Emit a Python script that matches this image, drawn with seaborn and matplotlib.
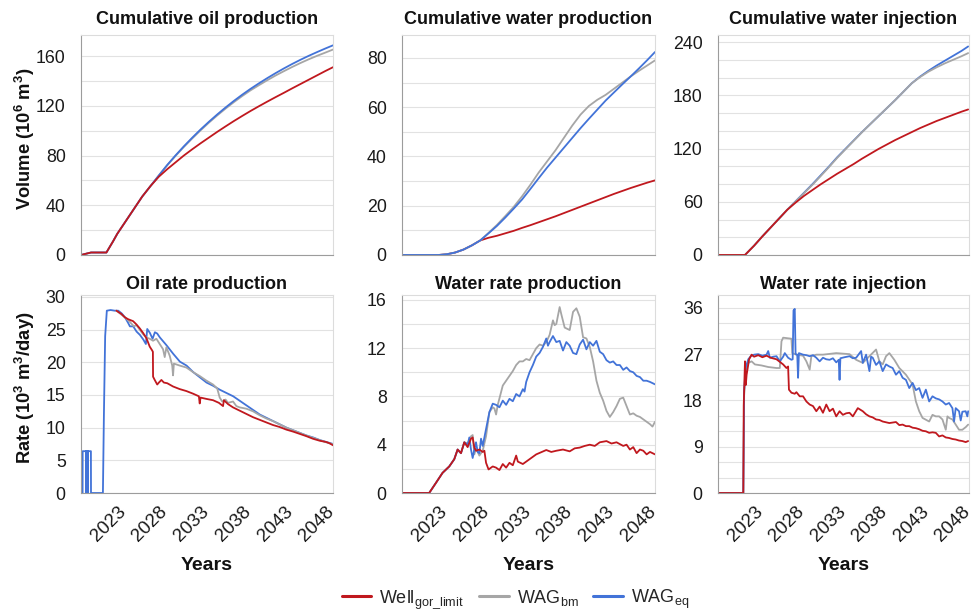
import matplotlib
matplotlib.use("Agg")
import matplotlib.pyplot as plt
from matplotlib.lines import Line2D
from matplotlib.ticker import MultipleLocator
import pandas as pd
import seaborn as sns

# ---------------------------------------------------------------- data
cases = ["Well", "WAG_bm", "WAG_eq"]
case_labels = [r"Well$_{gor\_limit}$", r"WAG$_{bm}$", r"WAG$_{eq}$"]
case_colors = {"Well": "#C0181E", "WAG_bm": "#A6A6A6", "WAG_eq": "#4273D8"}
year_ticks = [2023, 2028, 2033, 2038, 2043, 2048]

# Cumulative oil production (10^6 m3)
cum_oil_years = [2018.68, 2019.0, 2019.85, 2021.7, 2022.5,
                 2023, 2024, 2025, 2026, 2027, 2028, 2029, 2030, 2031, 2032,
                 2033, 2034, 2035, 2036, 2037, 2038, 2039, 2040, 2041, 2042,
                 2043, 2044, 2045, 2046, 2047, 2048, 2048.9]
cum_oil_well = [0, 0.6, 2, 2, 11,
                17, 27, 37, 47, 55.5, 63, 69, 74.5, 80, 85,
                89.8, 94.4, 99, 103.4, 107.7, 111.8, 115.8, 119.6, 123.3, 126.9,
                130.4, 134, 137.5, 141, 144.5, 148, 151]
cum_oil_bm = [0, 0.6, 2, 2, 11,
              17, 27, 37, 47, 55.5, 64, 72.1, 79.7, 86.9, 93.7,
              100.2, 106.4, 112.2, 117.7, 122.9, 127.8, 132.4, 136.5, 140.5, 144.3,
              147.8, 151.2, 154.4, 157.4, 160.2, 162.8, 165.2]
cum_oil_eq = [0, 0.6, 2, 2, 11,
              17, 27, 37, 47, 55.5, 64, 72.4, 80.1, 87.4, 94.3,
              100.9, 107.1, 113, 118.6, 123.9, 128.9, 133.6, 138, 142.2, 146.2,
              150, 153.6, 157, 160.2, 163.2, 166.1, 168.6]

# Cumulative water production (10^6 m3)
cum_wprod_years = [2018.6, 2023, 2024, 2025, 2026, 2027, 2028, 2029, 2030, 2031,
                   2032, 2033, 2034, 2035, 2036, 2037, 2038, 2039, 2040, 2041,
                   2042, 2043, 2044, 2045, 2046, 2047, 2048, 2048.9]
cum_wprod_well = [0, 0, 0.3, 1.0, 2.2, 3.9, 5.9, 7.0, 7.8, 8.8,
                  9.8, 11.0, 12.1, 13.3, 14.5, 15.7, 17.0, 18.3, 19.6, 20.9,
                  22.2, 23.5, 24.8, 26.0, 27.2, 28.3, 29.4, 30.3]
cum_wprod_bm = [0, 0, 0.3, 1.0, 2.2, 3.9, 5.9, 9.0, 12.2, 15.8,
                19.5, 23.8, 28.5, 33.5, 38, 42.5, 47.5, 52.5, 57, 60.5,
                63, 65, 67.5, 70, 72.5, 74.8, 77, 79]
cum_wprod_eq = [0, 0, 0.3, 1.0, 2.2, 3.9, 5.9, 8.8, 11.8, 15.2,
                18.8, 22.5, 26.8, 31.2, 35.5, 39.5, 43.5, 47.5, 51.5, 55.3,
                59, 62.7, 66, 69.3, 72.5, 75.8, 79.2, 82.4]

# Cumulative water injection (10^6 m3)
cum_winj_years = [2018.6, 2021.9, 2023, 2024, 2025, 2026, 2027, 2028, 2029, 2030,
                  2031, 2032, 2033, 2034, 2035, 2036, 2037, 2038, 2039, 2040,
                  2041, 2042, 2043, 2044, 2045, 2046, 2047, 2048, 2048.8]
cum_winj_well = [0, 0, 10.5, 21, 31, 41, 51, 59, 66.5, 73,
                 79.5, 85.5, 91.5, 97, 102.5, 108.5, 114, 119.5, 124.5, 129.5,
                 134, 138.5, 143, 147, 151, 154.5, 158, 161.5, 164]
cum_winj_bm = [0, 0, 10.5, 21, 31, 41, 51, 60.3, 69.5, 78.8,
               88.7, 98.8, 109.3, 119.0, 128.7, 138.3, 147.5, 156.5, 165.5, 174.5,
               184, 193.5, 200.5, 206.5, 211.5, 216, 220, 224, 227.5]
cum_winj_eq = [0, 0, 10.5, 21, 31, 41, 51, 60.5, 70, 79.5,
               89.5, 99.5, 110, 119.5, 129, 138.5, 147.5, 156.5, 165.5, 174.5,
               184, 193.5, 201, 207.5, 213.5, 219, 224.5, 230, 235]

# Oil rate production (10^3 m3/day)
oil_rate_eq_years = [2018.70, 2018.84, 2018.85, 2019.24, 2019.25, 2019.26, 2019.48,
                     2019.49, 2019.50, 2019.84, 2019.85, 2021.28, 2021.40, 2021.55,
                     2021.75, 2022.2, 2022.7, 2023.12, 2023.52, 2023.92, 2024.32,
                     2024.52, 2024.92, 2025.32, 2025.72, 2026.12, 2026.44, 2026.6,
                     2026.92, 2027.24, 2027.52, 2027.8, 2028.12, 2028.92, 2029.72,
                     2030.52, 2031.32, 2032.12, 2032.92, 2033.72, 2034.52, 2035.32,
                     2036.12, 2036.92, 2037.72, 2038.52, 2039.32, 2040.12, 2040.92,
                     2041.72, 2042.52, 2043.32, 2044.12, 2044.92, 2045.72, 2046.52,
                     2047.32, 2048.12, 2048.92]
oil_rate_eq = [0, 0, 6.4, 6.4, 0, 6.4, 6.4,
               0, 6.4, 6.4, 0, 0, 12, 24,
               27.9, 28.0, 27.9, 27.9, 27.5, 26.9, 26.0,
               25.5, 25.5, 24.7, 24.2, 23.5, 22.8, 25.1,
               24.5, 23.6, 24.6, 24.4, 23.8, 22.6, 21.3,
               20.1, 19.5, 18.5, 17.7, 16.9, 16.4, 15.8,
               15.3, 14.8, 14.1, 13.4, 12.7, 12.0, 11.5,
               11.0, 10.5, 10.0, 9.6, 9.2, 8.8, 8.5,
               8.1, 7.8, 7.5]
oil_rate_well_years = [2022.9, 2023.5, 2023.9, 2024.3, 2024.9, 2025.3, 2025.7, 2026.1,
                       2026.5, 2026.9, 2027.2, 2027.28, 2027.3, 2027.5, 2027.8, 2028.0,
                       2028.3, 2028.6, 2029.0, 2029.7, 2030.5, 2031.3, 2032.1, 2032.8,
                       2032.9, 2033.0, 2033.7, 2034.5, 2035.2, 2035.7, 2035.8, 2036.3,
                       2036.9, 2037.7, 2038.5, 2039.3, 2040.1, 2040.9, 2041.7, 2042.5,
                       2043.3, 2044.1, 2044.9, 2045.7, 2046.5, 2047.3, 2048.1, 2048.5,
                       2048.9]
oil_rate_well = [27.9, 27.4, 26.9, 26.6, 26.3, 25.8, 25.2, 24.5,
                 23.7, 22.4, 21.8, 21.6, 17.8, 17.3, 16.6, 16.9,
                 17.3, 16.9, 16.8, 16.3, 15.9, 15.6, 15.2, 14.8,
                 13.7, 14.6, 14.4, 14.2, 13.8, 13.3, 14.2, 13.6,
                 13.1, 12.6, 12.1, 11.6, 11.2, 10.8, 10.4, 10.1,
                 9.7, 9.4, 9.05, 8.7, 8.3, 8.0, 7.8, 7.6,
                 7.3]
oil_rate_bm_years = [2022.9, 2023.9, 2024.5, 2025.0, 2025.3, 2025.7, 2026.1, 2026.5,
                     2026.9, 2027.3, 2027.7, 2028.1, 2028.5, 2028.7, 2028.9, 2029.3,
                     2029.6, 2029.7, 2029.8, 2030.5, 2031.3, 2032.1, 2032.9, 2033.7,
                     2034.5, 2035.0, 2035.3, 2035.6, 2036.0, 2036.3, 2036.9, 2037.3,
                     2037.7, 2038.5, 2039.3, 2040.1, 2040.9, 2041.7, 2042.5, 2043.3,
                     2044.1, 2044.9, 2045.7, 2046.5, 2047.3, 2048.1, 2048.9]
oil_rate_bm = [27.9, 26.9, 26.2, 25.5, 25.7, 25.0, 24.3, 23.8,
               23.6, 23.3, 23.6, 22.8, 22.0, 20.8, 22.3, 21.0,
               19.5, 18.0, 19.8, 19.5, 19.2, 18.5, 17.9, 17.2,
               16.6, 16.0, 14.6, 14.0, 14.3, 13.8, 14.0, 13.3,
               13.1, 12.9, 12.5, 11.9, 11.4, 11.0, 10.5, 10.0,
               9.6, 9.2, 8.8, 8.45, 8.1, 7.75, 7.45]

# Water rate production (10^3 m3/day)
wprod_rate_well_years = [2018.6, 2021.9, 2022.7, 2023.5, 2024.3, 2024.9, 2025.3, 2025.7,
                         2026.1, 2026.5, 2026.9, 2027.1, 2027.3, 2027.5, 2027.9, 2028.3,
                         2028.5, 2028.7, 2029.0, 2029.5, 2029.9, 2030.3, 2030.7, 2031.1,
                         2031.5, 2031.9, 2032.3, 2032.5, 2033.1, 2033.5, 2033.9, 2034.7,
                         2035.9, 2036.5, 2037.1, 2037.9, 2038.7, 2039.3, 2039.9, 2040.5,
                         2041.1, 2041.7, 2042.3, 2043.1, 2043.7, 2044.3, 2045.1, 2045.5,
                         2045.9, 2046.3, 2046.7, 2047.1, 2047.5, 2047.9, 2048.3, 2048.9]
wprod_rate_well = [0, 0, 0.83, 1.67, 2.2, 2.8, 3.6, 3.3,
                   4.2, 3.8, 4.5, 4.6, 3.75, 3.5, 3.6, 3.4,
                   3.5, 2.5, 1.95, 2.2, 2.1, 1.9, 2.4, 2.1,
                   2.5, 2.3, 3.1, 2.6, 2.4, 2.6, 2.8, 3.2,
                   3.56, 3.4, 3.5, 3.6, 3.45, 3.7, 3.76, 3.9,
                   4.0, 3.9, 4.2, 4.3, 4.1, 4.2, 3.9, 4.0,
                   3.6, 3.8, 3.3, 3.6, 3.5, 3.2, 3.4, 3.2]
wprod_rate_eq_years = [2018.6, 2021.9, 2022.7, 2023.5, 2024.3, 2024.9, 2025.3, 2025.7,
                       2026.1, 2026.5, 2026.7, 2026.9, 2027.1, 2027.3, 2027.5, 2027.7,
                       2027.9, 2028.1, 2028.3, 2028.5, 2028.7, 2029.1, 2029.5, 2029.9,
                       2030.3, 2030.7, 2031.1, 2031.5, 2031.9, 2032.3, 2032.7, 2033.1,
                       2033.3, 2033.5, 2033.9, 2034.3, 2034.7, 2035.1, 2035.5, 2035.9,
                       2036.1, 2036.3, 2036.7, 2037.1, 2037.5, 2037.9, 2038.3, 2038.7,
                       2039.1, 2039.5, 2039.9, 2040.3, 2040.7, 2041.1, 2041.5, 2041.9,
                       2042.3, 2042.7, 2043.1, 2043.5, 2043.9, 2044.3, 2044.7, 2045.1,
                       2045.5, 2045.9, 2046.3, 2046.7, 2047.1, 2047.5, 2047.9, 2048.3,
                       2048.9]
wprod_rate_eq = [0, 0, 0.83, 1.67, 2.2, 2.8, 3.6, 3.3,
                 4.2, 4.0, 4.6, 3.6, 2.9, 3.6, 4.2, 3.4,
                 3.3, 4.5, 3.9, 4.6, 5.3, 6.7, 7.4, 7.3,
                 7.1, 7.65, 7.3, 7.8, 7.6, 8.2, 8.0, 8.6,
                 8.4, 9.2, 10.0, 10.6, 11.3, 11.6, 12.1, 12.8,
                 12.2, 12.5, 13.0, 12.5, 12.6, 11.8, 12.5, 12.2,
                 11.6, 11.5, 12.3, 12.7, 11.9, 12.5, 12.2, 12.6,
                 11.7, 11.5, 11.0, 10.8, 10.9, 10.6, 10.6, 10.2,
                 10.4, 10.1, 10.0, 9.7, 9.6, 9.3, 9.3, 9.2,
                 9.0]
wprod_rate_bm_years = [2018.6, 2021.9, 2022.7, 2023.5, 2024.3, 2024.9, 2025.3, 2025.7,
                       2026.1, 2026.5, 2026.9, 2027.1, 2027.3, 2027.5, 2027.9, 2028.3,
                       2028.7, 2029.1, 2029.5, 2029.7, 2029.9, 2030.1, 2030.7, 2031.1,
                       2031.5, 2031.9, 2032.3, 2032.7, 2033.1, 2033.5, 2033.9, 2034.3,
                       2034.7, 2035.1, 2035.5, 2035.9, 2036.3, 2036.7, 2036.9, 2037.1,
                       2037.5, 2037.7, 2038.1, 2038.4, 2038.7, 2039.1, 2039.5, 2039.9,
                       2040.3, 2040.7, 2041.1, 2041.5, 2041.9, 2042.3, 2042.7, 2043.1,
                       2043.5, 2043.9, 2044.3, 2044.7, 2045.1, 2045.5, 2045.9, 2046.3,
                       2046.7, 2047.1, 2047.5, 2047.9, 2048.3, 2048.6, 2048.9]
wprod_rate_bm = [0, 0, 0.83, 1.67, 2.2, 2.8, 3.6, 3.3,
                 4.2, 4.1, 4.7, 4.8, 3.2, 3.7, 3.1, 3.5,
                 4.7, 6.7, 7.1, 7.0, 6.5, 7.3, 8.9, 9.3,
                 9.7, 10.1, 10.6, 10.9, 10.9, 11.1, 11.0, 11.5,
                 12.0, 12.3, 12.2, 12.5, 13.1, 14.3, 13.9, 14.0,
                 15.4, 14.8, 13.7, 13.6, 13.5, 15.0, 15.3, 14.6,
                 12.9, 12.8, 12.1, 10.9, 9.3, 8.3, 7.65, 6.8,
                 6.3, 6.7, 7.2, 7.8, 7.9, 7.2, 6.5, 6.6,
                 6.4, 6.3, 6.1, 5.9, 5.7, 5.5, 5.9]

# Water rate injection (10^3 m3/day)
winj_rate_well_years = [2018.5, 2021.7, 2021.75, 2021.9, 2022.0, 2022.1, 2022.4, 2022.7,
                        2023.0, 2023.5, 2024.0, 2024.5, 2025.0, 2025.7, 2026.5, 2026.9,
                        2027.1, 2027.2, 2027.5, 2027.9, 2028.1, 2028.5, 2028.9, 2029.3,
                        2029.7, 2030.1, 2030.5, 2030.9, 2031.3, 2031.7, 2032.1, 2032.5,
                        2032.9, 2033.3, 2033.7, 2034.1, 2034.5, 2034.9, 2035.5, 2036.1,
                        2036.5, 2036.9, 2037.3, 2037.7, 2038.1, 2038.5, 2039.3, 2040.1,
                        2040.5, 2040.9, 2041.3, 2041.7, 2042.1, 2042.5, 2042.9, 2043.3,
                        2043.7, 2044.1, 2044.5, 2044.9, 2045.3, 2045.7, 2046.1, 2046.5,
                        2046.9, 2047.3, 2047.7, 2048.1, 2048.5, 2048.8]
winj_rate_well = [0, 0, 17, 25.6, 21.0, 23.0, 26.0, 26.9,
                  26.5, 26.8, 26.4, 26.7, 26.3, 26.0, 25.0, 24.3,
                  24.6, 20.1, 19.5, 19.3, 19.6, 18.8, 18.8, 17.8,
                  17.2, 16.9, 15.9, 16.8, 15.6, 17.2, 15.9, 16.4,
                  14.9, 15.9, 15.2, 15.5, 15.6, 14.9, 16.5, 15.9,
                  15.3, 14.9, 14.7, 14.3, 14.2, 13.9, 13.6, 13.8,
                  13.2, 13.3, 13.0, 13.0, 12.7, 12.6, 12.4, 12.1,
                  12.0, 11.7, 11.8, 11.7, 11.0, 11.2, 10.8, 10.7,
                  10.5, 10.4, 10.2, 10.1, 9.9, 10.1]
winj_rate_eq_years = [2018.5, 2021.7, 2021.8, 2022.0, 2022.3, 2022.6, 2023.0, 2023.5,
                      2024.0, 2024.5, 2024.7, 2024.9, 2025.3, 2025.7, 2026.1, 2026.5,
                      2026.7, 2027.1, 2027.5, 2027.65, 2027.75, 2027.9, 2028.0, 2028.2,
                      2028.3, 2028.4, 2028.9, 2029.3, 2029.7, 2030.1, 2030.5, 2030.9,
                      2031.3, 2031.7, 2032.1, 2032.5, 2032.9, 2033.2, 2033.3, 2033.4,
                      2033.9, 2034.5, 2034.9, 2035.3, 2035.9, 2036.1, 2036.5, 2036.9,
                      2037.1, 2037.3, 2037.7, 2038.1, 2038.5, 2038.9, 2039.3, 2039.7,
                      2040.1, 2040.5, 2040.9, 2041.3, 2041.7, 2042.1, 2042.5, 2042.9,
                      2043.3, 2043.7, 2044.1, 2044.5, 2044.9, 2045.3, 2045.7, 2046.1,
                      2046.5, 2046.9, 2047.1, 2047.3, 2047.7, 2047.9, 2048.1, 2048.5,
                      2048.7, 2048.8]
winj_rate_eq = [0, 0, 20, 24.5, 26.0, 26.6, 26.9, 27.0,
                26.7, 26.9, 27.6, 26.3, 26.5, 26.6, 25.6, 26.5,
                27.2, 26.3, 25.9, 26.0, 35.5, 35.8, 27.0, 26.9,
                22.4, 27.2, 26.9, 26.8, 26.6, 26.8, 26.3, 25.6,
                26.3, 26.0, 25.9, 26.2, 25.4, 25.9, 22.0, 26.2,
                26.4, 26.6, 26.2, 26.3, 27.6, 25.3, 26.9, 23.7,
                26.5, 26.3, 24.9, 25.6, 23.7, 25.0, 24.6, 24.3,
                23.0, 23.7, 22.4, 22.0, 20.4, 21.4, 20.0, 20.4,
                18.5, 20.1, 17.8, 18.8, 18.4, 18.2, 17.8, 17.2,
                17.5, 16.5, 13.9, 16.5, 15.9, 14.1, 15.8, 15.9,
                14.9, 15.9]
winj_rate_bm_years = [2018.5, 2021.7, 2021.8, 2022.0, 2022.3, 2022.7, 2023.1, 2023.9,
                      2024.7, 2025.7, 2026.1, 2026.3, 2026.5, 2027.5, 2027.6, 2028.1,
                      2028.9, 2029.3, 2029.7, 2029.9, 2030.5, 2031.3, 2032.9, 2034.5,
                      2035.3, 2036.1, 2036.9, 2037.7, 2038.1, 2038.5, 2038.9, 2039.3,
                      2039.9, 2040.5, 2041.3, 2042.1, 2042.5, 2042.9, 2043.3, 2044.1,
                      2044.5, 2044.9, 2045.3, 2045.7, 2046.1, 2046.3, 2046.5, 2046.9,
                      2047.3, 2047.7, 2048.1, 2048.5, 2048.8]
winj_rate_bm = [0, 0, 19, 24, 25.3, 25.6, 25.0, 24.8,
                24.5, 24.3, 24.3, 29.5, 30.2, 30.0, 27.2, 26.9,
                26.7, 25.6, 24.0, 26.6, 26.9, 26.9, 27.2, 27.0,
                25.9, 25.3, 26.6, 27.9, 25.6, 25.0, 26.6, 27.2,
                25.9, 24.3, 23.0, 21.1, 17.8, 15.9, 14.6, 13.9,
                15.2, 14.9, 14.9, 14.3, 12.3, 14.9, 14.6, 14.3,
                13.3, 12.3, 12.3, 12.8, 13.3]


def long_frame(series):
    """Stack (case, years, values) triples into one tidy frame."""
    parts = [pd.DataFrame({"year": yrs, "value": vals, "case": case})
             for case, yrs, vals in series]
    return pd.concat(parts, ignore_index=True)


panels = [
    dict(title="Cumulative oil production", ylim=176.9, major=40, minor=20,
         order=["WAG_bm", "WAG_eq", "Well"],
         data=long_frame([("Well", cum_oil_years, cum_oil_well),
                          ("WAG_bm", cum_oil_years, cum_oil_bm),
                          ("WAG_eq", cum_oil_years, cum_oil_eq)])),
    dict(title="Cumulative water production", ylim=89.3, major=20, minor=10,
         order=["Well", "WAG_bm", "WAG_eq"],
         data=long_frame([("Well", cum_wprod_years, cum_wprod_well),
                          ("WAG_bm", cum_wprod_years, cum_wprod_bm),
                          ("WAG_eq", cum_wprod_years, cum_wprod_eq)])),
    dict(title="Cumulative water injection", ylim=247.9, major=60, minor=20,
         order=["WAG_eq", "WAG_bm", "Well"],
         data=long_frame([("Well", cum_winj_years, cum_winj_well),
                          ("WAG_bm", cum_winj_years, cum_winj_bm),
                          ("WAG_eq", cum_winj_years, cum_winj_eq)])),
    dict(title="Oil rate production", ylim=30.3, major=5, minor=5,
         order=["WAG_eq", "WAG_bm", "Well"],
         data=long_frame([("Well", oil_rate_well_years, oil_rate_well),
                          ("WAG_bm", oil_rate_bm_years, oil_rate_bm),
                          ("WAG_eq", oil_rate_eq_years, oil_rate_eq)])),
    dict(title="Water rate production", ylim=16.4, major=4, minor=2,
         order=["WAG_bm", "WAG_eq", "Well"],
         data=long_frame([("Well", wprod_rate_well_years, wprod_rate_well),
                          ("WAG_bm", wprod_rate_bm_years, wprod_rate_bm),
                          ("WAG_eq", wprod_rate_eq_years, wprod_rate_eq)])),
    dict(title="Water rate injection", ylim=38.5, major=9, minor=3,
         order=["WAG_bm", "WAG_eq", "Well"],
         data=long_frame([("Well", winj_rate_well_years, winj_rate_well),
                          ("WAG_bm", winj_rate_bm_years, winj_rate_bm),
                          ("WAG_eq", winj_rate_eq_years, winj_rate_eq)])),
]

# ---------------------------------------------------------------- figure
sns.set_theme(style="white")
plt.rcParams["font.family"] = ["Liberation Sans", "DejaVu Sans"]
plt.rcParams["mathtext.default"] = "regular"

W, H = 978, 615
fig = plt.figure(figsize=(W / 100, H / 100), dpi=100)

col_px = [(81, 252), (402, 253), (718, 251)]
row_px = [(35, 255), (295, 493)]

for i, p in enumerate(panels):
    r, c = divmod(i, 3)
    x0, w = col_px[c]
    top, bot = row_px[r]
    ax = fig.add_axes([x0 / W, 1 - bot / H, w / W, (bot - top) / H])

    sns.lineplot(data=p["data"], x="year", y="value", hue="case",
                 hue_order=p["order"], palette=case_colors, estimator=None,
                 sort=False, legend=False, linewidth=1.3, ax=ax)

    ax.set_xlim(2018.65, 2048.9)
    ax.set_ylim(0, p["ylim"])
    ax.set_xticks(year_ticks)
    ax.yaxis.set_major_locator(MultipleLocator(p["major"]))
    ax.yaxis.set_minor_locator(MultipleLocator(p["minor"]))
    ax.grid(True, which="both", axis="y", color="#e2e2e2", linewidth=0.8)
    ax.grid(False, axis="x")
    ax.set_axisbelow(True)

    for side in ("left", "bottom"):
        ax.spines[side].set_color("#9c9c9c")
        ax.spines[side].set_linewidth(0.8)
    for side in ("top", "right"):
        ax.spines[side].set_color("#dcdcdc")
        ax.spines[side].set_linewidth(0.8)

    ax.tick_params(axis="both", which="both", direction="out", colors="#9c9c9c",
                   labelcolor="#1a1a1a", width=0.8)
    ax.tick_params(axis="y", which="major", length=4, pad=7, labelsize=12.8)
    ax.tick_params(axis="y", which="minor", length=3)
    ax.tick_params(axis="x", which="major", length=3.5, pad=4, labelsize=13.5)

    ax.set_xlabel("")
    ax.set_ylabel("")
    ax.set_title(p["title"], fontsize=13, fontweight="bold", color="#111111",
                 pad=8 if r == 0 else 4)

    if r == 0:
        ax.tick_params(axis="x", labelbottom=False)
    else:
        plt.setp(ax.get_xticklabels(), rotation=45, ha="right",
                 rotation_mode="anchor")
        ax.set_xlabel("Years", fontsize=14, fontweight="bold", color="#111111")
        ax.xaxis.set_label_coords(0.5, -0.325)

    if c == 0:
        ylab = "Volume (10$^6$ m$^3$)" if r == 0 else "Rate (10$^3$ m$^3$/day)"
        ax.set_ylabel(ylab, fontsize=13.2, fontweight="bold", color="#111111")
        ax.yaxis.set_label_coords((37 - x0) / w, 0.5 + 6 / (bot - top))

handles = [Line2D([], [], color=case_colors[k], linewidth=2.2) for k in cases]
fig.legend(handles, case_labels, loc="center", bbox_to_anchor=(0.527, 0.026),
           ncol=3, frameon=False, fontsize=13, handlelength=1.65,
           handletextpad=0.45, columnspacing=0.8)

fig.savefig("out.png", dpi=100)
